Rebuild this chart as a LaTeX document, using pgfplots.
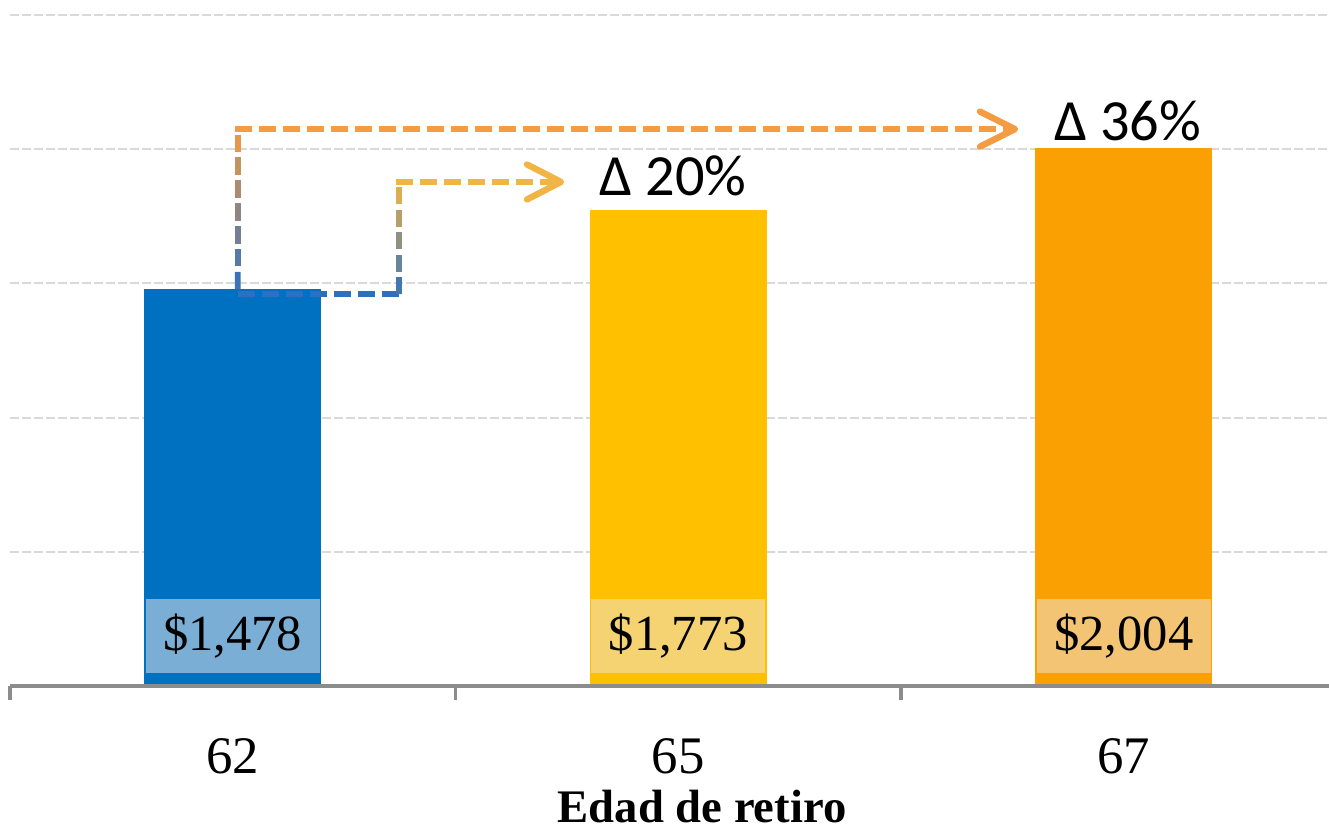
\documentclass[border=0pt]{standalone}
\usepackage{pgfplots}
\pgfplotsset{compat=1.18}
\usepackage{fontspec}
\setmainfont{Liberation Serif}
\newfontfamily\sansf{Carlito}
\usetikzlibrary{calc}
\definecolor{cblue}{HTML}{0070C0}
\definecolor{cyellow}{HTML}{FFC000}
\definecolor{corange}{HTML}{FBA003}
\definecolor{lblue}{HTML}{7AAED4}
\definecolor{lyellow}{HTML}{F5D372}
\definecolor{lorange}{HTML}{F3C473}
\definecolor{gridgray}{HTML}{D9D9D9}
\definecolor{axgray}{HTML}{8C8C8C}
\definecolor{ablue}{HTML}{2E70C0}
\definecolor{aorange}{HTML}{F39C42}
\definecolor{ayellow}{HTML}{F1B545}
\begin{document}
\begin{tikzpicture}
\begin{axis}[
  scale only axis, width=474.84pt, height=246.96pt,
  xmin=-0.5, xmax=2.4607, ymin=0, ymax=2556,
  clip=false,
  axis line style={draw=none},
  xtick={0,1,2}, xticklabels={62,65,67},
  minor xtick={-0.5,0.5,1.5},
  major x tick style={draw=none},
  minor x tick style={draw=axgray, line width=1.1pt},
  minor tick length=5.04pt,
  tick align=outside, xtick pos=bottom,
  ytick={500,1000,1500,2000,2500}, yticklabels={},
  ytick style={draw=none},
  ymajorgrids,
  grid style={draw=gridgray, line width=0.7pt, dash pattern=on 3.24pt off 1.08pt},
  xticklabel style={font=\fontsize{19}{19}\selectfont, yshift=-11pt},
  bar width=0.398,
]
\addplot[ybar, bar shift=0pt, fill=cblue, draw=none] coordinates {(0,1478)};
\addplot[ybar, bar shift=0pt, fill=cyellow, draw=none] coordinates {(1,1773)};
\addplot[ybar, bar shift=0pt, fill=corange, draw=none] coordinates {(2,2004)};
\draw[axgray, line width=1.1pt] (axis cs:-0.5,0) -- (axis cs:2.4607,0);
\node[fill=lblue, minimum width=62.64pt, minimum height=26.64pt, inner sep=0pt, font=\fontsize{18.2}{18.2}\selectfont] at (axis cs:0,186) {\$1,478};
\node[fill=lyellow, minimum width=62.64pt, minimum height=26.64pt, inner sep=0pt, font=\fontsize{18.2}{18.2}\selectfont] at (axis cs:1,186) {\$1,773};
\node[fill=lorange, minimum width=62.64pt, minimum height=26.64pt, inner sep=0pt, font=\fontsize{18.2}{18.2}\selectfont] at (axis cs:2,186) {\$2,004};
\node[anchor=base, inner sep=0pt, font=\sansf\fontsize{21}{21}\selectfont] at (axis cs:0.988,1829) {Δ 20\%};
\node[anchor=base, inner sep=0pt, font=\sansf\fontsize{21}{21}\selectfont] at (axis cs:2.0084,2033) {Δ 36\%};
\node[anchor=base, inner sep=0pt, font=\bfseries\fontsize{16.8}{16.8}\selectfont] at (axis cs:1.0533,-510) {Edad de retiro};
\coordinate (A0) at (axis cs:0.0111,1478);
\coordinate (A1) at (axis cs:0.0111,2075);
\coordinate (AT) at (axis cs:1.7559,2075);
\coordinate (B0) at (axis cs:0.0111,1460);
\coordinate (B1) at (axis cs:0.3732,1460);
\coordinate (B2) at (axis cs:0.3732,1878);
\coordinate (BT) at (axis cs:0.7368,1878);
\coordinate (TL) at (axis cs:-0.52245,2556);
\coordinate (BR) at (axis cs:2.4607,-540.2);
\end{axis}
% path A
\foreach \i in {0,...,6}{
  \pgfmathsetmacro\ta{\i/7}
  \pgfmathsetmacro\tb{(\i+0.76)/7}
  \pgfmathtruncatemacro\p{100*(\i+0.5)/7}
  \draw[line width=2.1pt, color=aorange!\p!ablue] ($(A0)!\ta!(A1)$) -- ($(A0)!\tb!(A1)$);
}
\draw[line width=2.1pt, aorange, dash pattern=on 6.12pt off 2.52pt] ([xshift=-1.05pt]A1) -- ([xshift=-3pt]AT);
\draw[line width=2.3pt, aorange, line cap=round, line join=round] ([shift={(-12.6pt,6.3pt)}]AT) -- (AT) -- ([shift={(-12.6pt,-6.3pt)}]AT);
% path B
\draw[line width=2.1pt, ablue, dash pattern=on 6.12pt off 2.52pt] (B0) -- ([xshift=1.05pt]B1);
\foreach \i in {0,...,4}{
  \pgfmathsetmacro\ta{\i/5}
  \pgfmathsetmacro\tb{(\i+0.76)/5}
  \pgfmathtruncatemacro\p{100*(\i+0.5)/5}
  \draw[line width=2.1pt, color=ayellow!\p!ablue] ($(B1)!\ta!(B2)$) -- ($(B1)!\tb!(B2)$);
}
\draw[line width=2.1pt, ayellow, dash pattern=on 6.12pt off 2.52pt] ([xshift=-1.05pt]B2) -- ([xshift=-3pt]BT);
\draw[line width=2.3pt, ayellow, line cap=round, line join=round] ([shift={(-12.24pt,6.3pt)}]BT) -- (BT) -- ([shift={(-12.24pt,-6.3pt)}]BT);
\pgfresetboundingbox
\useasboundingbox (TL) rectangle (BR);
\end{tikzpicture}
\end{document}
